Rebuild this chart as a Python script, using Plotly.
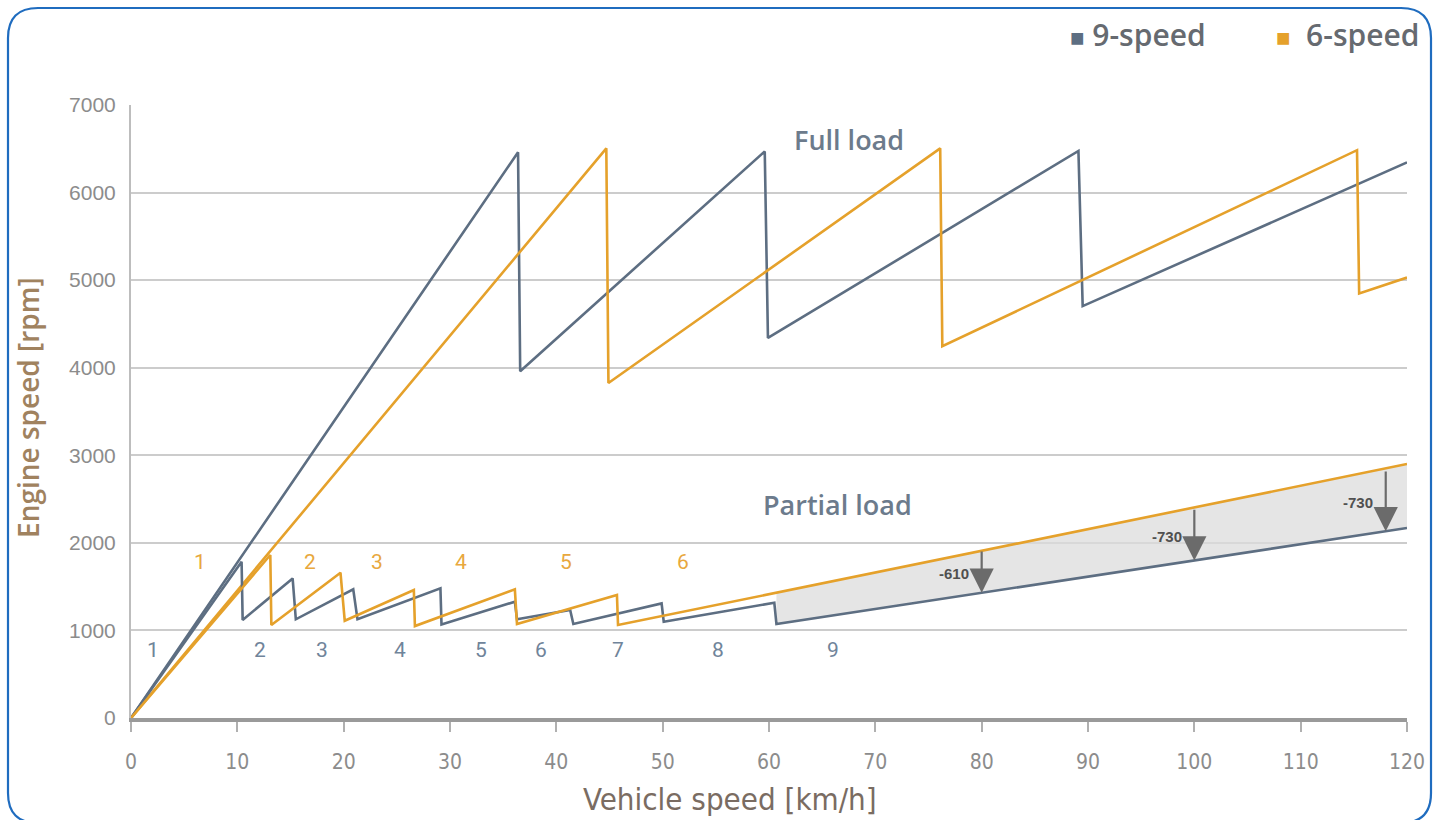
import plotly.graph_objects as go

# ---------------- data ----------------
full9_x = [0, 36.4, 36.6, 59.6, 59.9, 89.1, 89.5, 120]
full9_y = [0, 6460, 3960, 6470, 4340, 6476, 4703, 6345]

full6_x = [0, 44.7, 44.9, 76.1, 76.3, 115.3, 115.5, 120]
full6_y = [0, 6505, 3825, 6505, 4245, 6484, 4848, 5030]

part9_x = [0, 10.4, 10.5, 15.2, 15.5, 20.9, 21.3, 29.1, 29.2, 36.1, 36.3, 41.3, 41.6, 49.9, 50.1, 60.5, 60.7, 120]
part9_y = [0, 1784, 1119, 1594, 1127, 1469, 1127, 1481, 1069, 1328, 1127, 1233, 1073, 1309, 1099, 1316, 1073, 2169]

part6_x = [0, 13.1, 13.2, 19.7, 20.1, 26.6, 26.7, 36.1, 36.3, 45.7, 45.8, 60.7, 120]
part6_y = [0, 1861, 1062, 1659, 1111, 1461, 1050, 1469, 1073, 1404, 1062, 1430, 2900]

gear6_labels = ["1", "2", "3", "4", "5", "6"]
gear6_x = [6.5, 16.8, 23.1, 31.0, 40.9, 51.9]
gear6_y = [1781] * 6

gear9_labels = ["1", "2", "3", "4", "5", "6", "7", "8", "9"]
gear9_x = [2.1, 12.1, 18.0, 25.3, 32.9, 38.6, 45.8, 55.2, 66.0]
gear9_y = [776] * 9

diff_labels = ["-610", "-730", "-730"]
diff_x = [80, 100, 118]
diff_top = [1918, 2394, 2831]
diff_bottom = [1430, 1799, 2132]

x_ticks = list(range(0, 121, 10))
y_ticks = list(range(0, 7001, 1000))

x_title = "Vehicle speed [km/h]"
y_title = "Engine speed [rpm]"

# ---------------- styling ----------------
BLUE = "#5d6e82"
ORANGE = "#e5a12b"
GRID = "#cccccc"
W, H = 1438, 820
ML, MR, MT, MB = 131, 31, 105, 102
PW, PH = W - ML - MR, H - MT - MB


def px2paper(px, py):
    return (px - ML) / PW, (H - MB - py) / PH


fig = go.Figure()

# shaded gap area (9-speed below 6-speed, 9th gear region)
start = 60.7
fx = [x for x in part9_x if x >= start] + [x for x in part6_x if x >= start][::-1]
fy = [y for x, y in zip(part9_x, part9_y) if x >= start] + \
     [y for x, y in zip(part6_x, part6_y) if x >= start][::-1]
fig.add_trace(go.Scatter(x=fx, y=fy, fill="toself", fillcolor="rgba(220,220,220,0.75)",
                         line=dict(width=0), mode="lines", hoverinfo="skip", showlegend=False))

for xs, ys, c in [(full9_x, full9_y, BLUE), (full6_x, full6_y, ORANGE),
                  (part9_x, part9_y, BLUE), (part6_x, part6_y, ORANGE)]:
    fig.add_trace(go.Scatter(x=xs, y=ys, mode="lines", line=dict(color=c, width=2.6),
                             showlegend=False))

ann = []
for t, x, y in zip(gear6_labels, gear6_x, gear6_y):
    ann.append(dict(x=x, y=y, text=t, showarrow=False,
                    font=dict(family="Roboto, sans-serif", size=21, color="#e8a83e")))
for t, x, y in zip(gear9_labels, gear9_x, gear9_y):
    ann.append(dict(x=x, y=y, text=t, showarrow=False,
                    font=dict(family="Roboto, sans-serif", size=21, color="#70849a")))

# difference arrows
for t, x, yt, yb in zip(diff_labels, diff_x, diff_top, diff_bottom):
    ann.append(dict(x=x, y=yb, ax=x, ay=yt, axref="x", ayref="y", text="",
                    showarrow=True, arrowhead=2, arrowsize=2.2, arrowwidth=2.2,
                    arrowcolor="#6b6b6b", standoff=0, startstandoff=0))
    ann.append(dict(x=x - 1.0, y=(yt + yb) / 2 - 20, text="<b>" + t + "</b>", showarrow=False,
                    xanchor="right",
                    font=dict(family="Liberation Sans, Arial, sans-serif", size=15, color="#505050")))

ann.append(dict(x=67.5, y=6610, text="Full load", showarrow=False,
                font=dict(family="Open Sans, sans-serif", size=27, color="#6c7b8c", weight=600)))
ann.append(dict(x=66.4, y=2443, text="Partial load", showarrow=False,
                font=dict(family="Open Sans, sans-serif", size=27, color="#6c7b8c", weight=600)))

# legend
lx, ly = px2paper(1068, 34)
ann.append(dict(xref="paper", yref="paper", x=lx, y=ly, xanchor="left", yanchor="middle",
                text="<span style='color:%s;font-size:24px'>■</span> 9-speed" % BLUE, showarrow=False,
                font=dict(family="Open Sans, sans-serif", size=30, color="#666a70", weight=600)))
lx, ly = px2paper(1274, 34)
ann.append(dict(xref="paper", yref="paper", x=lx, y=ly, xanchor="left", yanchor="middle",
                text="<span style='color:%s;font-size:24px'>■</span>  6-speed" % ORANGE, showarrow=False,
                font=dict(family="Open Sans, sans-serif", size=30, color="#666a70", weight=600)))

# axis titles
tx, ty = px2paper(730, 799)
ann.append(dict(xref="paper", yref="paper", x=tx, y=ty, xanchor="center", yanchor="middle",
                text=x_title, showarrow=False,
                font=dict(family="Liberation Sans Narrow, DejaVu Sans Condensed, sans-serif",
                          size=31, color="#7a6c62")))
tx, ty = px2paper(28, 408)
ann.append(dict(xref="paper", yref="paper", x=tx, y=ty, xanchor="center", yanchor="middle",
                text=y_title, showarrow=False, textangle=-90,
                font=dict(family="Open Sans, sans-serif", size=28, color="#a0825f", weight=600)))

# border (rounded rectangle)
l, t = px2paper(8, 8)
r, b = px2paper(1431, 823)
rx, ry = 30 / PW, 30 / PH
path = (f"M {l},{b + ry} L {l},{t - ry} Q {l},{t} {l + rx},{t} L {r - rx},{t} "
        f"Q {r},{t} {r},{t - ry} L {r},{b + ry} Q {r},{b} {r - rx},{b} "
        f"L {l + rx},{b} Q {l},{b} {l},{b + ry} Z")
shapes = [dict(type="path", xref="paper", yref="paper", path=path,
               line=dict(color="#1f6cbf", width=2.2), layer="above")]

fig.update_layout(
    width=W, height=H,
    margin=dict(l=ML, r=MR, t=MT, b=MB, autoexpand=False),
    paper_bgcolor="white", plot_bgcolor="white",
    annotations=ann, shapes=shapes, showlegend=False,
    xaxis=dict(range=[0, 120], tickvals=x_ticks, ticks="outside", ticklen=10, tickwidth=1.5,
               tickcolor="#b0b0b0", showgrid=False, zeroline=False, automargin=False,
               showline=True, linecolor="#9a9a9a", linewidth=4,
               ticklabelstandoff=12,
               tickfont=dict(family="Liberation Sans Narrow, DejaVu Sans Condensed, sans-serif",
                             size=21, color="#8c8c8c")),
    yaxis=dict(range=[0, 7000], tickvals=y_ticks, ticks="", showgrid=True, gridcolor=GRID,
               gridwidth=2, zeroline=False, showline=True, linecolor="#bdbdbd", linewidth=2,
               ticklabelstandoff=9, automargin=False,
               tickfont=dict(family="Liberation Sans, Arial, sans-serif", size=21, color="#8c8c8c")),
)

fig.write_html("out.html")
